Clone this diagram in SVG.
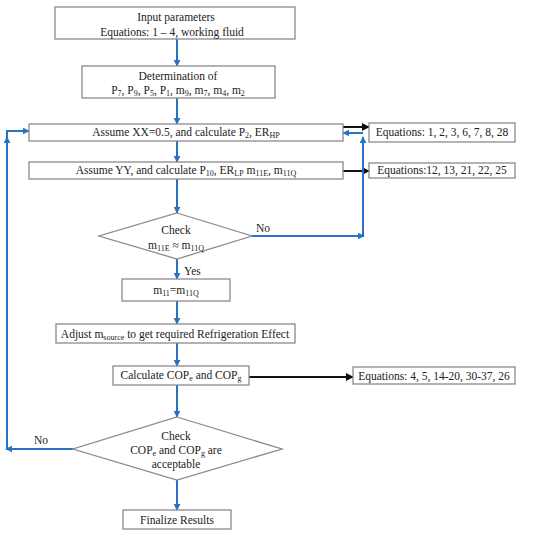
<svg xmlns="http://www.w3.org/2000/svg" width="550" height="537" viewBox="0 0 550 537">
<defs>
<style>
.box{fill:#fff;stroke:#8a8a8a;stroke-width:1.3}
.t{font-family:"Liberation Serif","Times New Roman",serif;font-size:11.5px;fill:#222;text-anchor:middle}
.tl{font-family:"Liberation Serif","Times New Roman",serif;font-size:11.5px;fill:#222}
.s{font-size:8px}
.b{stroke:#2872c4;stroke-width:2;fill:none}
.k{stroke:#111;stroke-width:2;fill:none}
</style>
<marker id="ab" viewBox="0 0 10 10" refX="9" refY="5" markerWidth="7" markerHeight="7" markerUnits="userSpaceOnUse" orient="auto"><path d="M0,0 L10,5 L0,10 z" fill="#2872c4"/></marker>
<marker id="ak" viewBox="0 0 10 10" refX="9" refY="5" markerWidth="8" markerHeight="8" markerUnits="userSpaceOnUse" orient="auto"><path d="M0,0 L10,5 L0,10 z" fill="#111"/></marker>
</defs>
<rect width="550" height="537" fill="#fff"/>
<g id="connectors">
<line class="b" x1="177" y1="39" x2="177" y2="66" marker-end="url(#ab)"/>
<line class="b" x1="177" y1="98" x2="177" y2="124" marker-end="url(#ab)"/>
<line class="b" x1="177" y1="141" x2="177" y2="162" marker-end="url(#ab)"/>
<line class="b" x1="177" y1="179" x2="177" y2="213" marker-end="url(#ab)"/>
<line class="b" x1="177" y1="259" x2="177" y2="279" marker-end="url(#ab)"/>
<line class="b" x1="177" y1="301" x2="177" y2="324" marker-end="url(#ab)"/>
<line class="b" x1="177" y1="343" x2="177" y2="366" marker-end="url(#ab)"/>
<line class="b" x1="177" y1="385" x2="177" y2="417" marker-end="url(#ab)"/>
<line class="b" x1="177" y1="480" x2="177" y2="510" marker-end="url(#ab)"/>
<line class="k" x1="343" y1="127" x2="369" y2="127" marker-end="url(#ak)"/>
<line class="k" x1="343" y1="171" x2="369" y2="171" marker-end="url(#ak)"/>
<line class="k" x1="249" y1="377" x2="353" y2="377" marker-end="url(#ak)"/>
<line class="b" x1="252" y1="236" x2="364" y2="236" marker-end="url(#ab)"/>
<line class="b" x1="363" y1="237" x2="363" y2="137" marker-end="url(#ab)"/>
<line class="b" x1="363" y1="133" x2="343" y2="133" marker-end="url(#ab)"/>
<line class="b" x1="73" y1="449" x2="6" y2="449" marker-end="url(#ab)"/>
<line class="b" x1="7" y1="449" x2="7" y2="137" marker-end="url(#ab)"/>
<polyline class="b" points="7,140 7,131 29,131" marker-end="url(#ab)"/>
</g>
<g id="input">
<rect class="box" x="55" y="7" width="240" height="32"/>
<text class="t" x="176" y="21">Input parameters</text>
<text class="t" x="172" y="36">Equations: 1 – 4, working fluid</text>
</g>
<g id="determination">
<rect class="box" x="82" y="66" width="193" height="32"/>
<text class="t" x="178" y="80">Determination of</text>
<text class="t" x="178" y="94">P<tspan class="s" dy="2">7</tspan><tspan dy="-2">, P</tspan><tspan class="s" dy="2">9</tspan><tspan dy="-2">, P</tspan><tspan class="s" dy="2">5</tspan><tspan dy="-2">, P</tspan><tspan class="s" dy="2">1</tspan><tspan dy="-2">, m</tspan><tspan class="s" dy="2">9</tspan><tspan dy="-2">, m</tspan><tspan class="s" dy="2">7</tspan><tspan dy="-2">, m</tspan><tspan class="s" dy="2">4</tspan><tspan dy="-2">, m</tspan><tspan class="s" dy="2">2</tspan></text>
</g>
<g id="assumeXX">
<rect class="box" x="29" y="124" width="314" height="17"/>
<text class="t" x="186" y="136">Assume XX=0.5, and calculate P<tspan class="s" dy="2">2</tspan><tspan dy="-2">, ER</tspan><tspan class="s" dy="2">HP</tspan></text>
</g>
<g id="eq1">
<rect class="box" x="369" y="123" width="146" height="19"/>
<text class="t" x="442" y="136">Equations: 1, 2, 3, 6, 7, 8, 28</text>
</g>
<g id="assumeYY">
<rect class="box" x="29" y="162" width="314" height="17"/>
<text class="t" x="186" y="174">Assume YY, and calculate P<tspan class="s" dy="2">10</tspan><tspan dy="-2">, ER</tspan><tspan class="s" dy="2">LP</tspan><tspan dy="-2"> m</tspan><tspan class="s" dy="2">11E</tspan><tspan dy="-2">, m</tspan><tspan class="s" dy="2">11Q</tspan></text>
</g>
<g id="eq2">
<rect class="box" x="369" y="163" width="146" height="15"/>
<text class="t" x="442" y="174">Equations:12, 13, 21, 22, 25</text>
</g>
<g id="check1">
<polygon class="box" points="177,213 252,236 177,259 99,236"/>
<text class="t" x="176" y="234">Check</text>
<text class="t" x="176" y="249">m<tspan class="s" dy="2">11E</tspan><tspan dy="-2"> ≈ m</tspan><tspan class="s" dy="2">11Q</tspan></text>
<text class="tl" x="256" y="232">No</text>
<text class="tl" x="184" y="275">Yes</text>
</g>
<g id="m11">
<rect class="box" x="122" y="279" width="108" height="22"/>
<text class="t" x="176" y="294">m<tspan class="s" dy="2">11</tspan><tspan dy="-2">=m</tspan><tspan class="s" dy="2">11Q</tspan></text>
</g>
<g id="adjust">
<rect class="box" x="56" y="324" width="239" height="19"/>
<text class="t" x="175" y="338">Adjust m<tspan class="s" dy="2">source</tspan><tspan dy="-2"> to get required Refrigeration Effect</tspan></text>
</g>
<g id="calc">
<rect class="box" x="113" y="366" width="136" height="19"/>
<text class="t" x="181" y="379">Calculate COP<tspan class="s" dy="2">e</tspan><tspan dy="-2"> and COP</tspan><tspan class="s" dy="2">g</tspan></text>
</g>
<g id="eq3">
<rect class="box" x="353" y="367" width="162" height="17"/>
<text class="t" x="434" y="380">Equations: 4, 5, 14-20, 30-37, 26</text>
</g>
<g id="check2">
<polygon class="box" points="177,417 282,449 177,480 73,449"/>
<text class="t" x="176" y="440">Check</text>
<text class="t" x="176" y="454">COP<tspan class="s" dy="2">e</tspan><tspan dy="-2"> and COP</tspan><tspan class="s" dy="2">g</tspan><tspan dy="-2"> are</tspan></text>
<text class="t" x="176" y="468">acceptable</text>
<text class="tl" x="34" y="444">No</text>
</g>
<g id="finalize">
<rect class="box" x="123" y="510" width="108" height="19"/>
<text class="t" x="177" y="524">Finalize Results</text>
</g>
</svg>
